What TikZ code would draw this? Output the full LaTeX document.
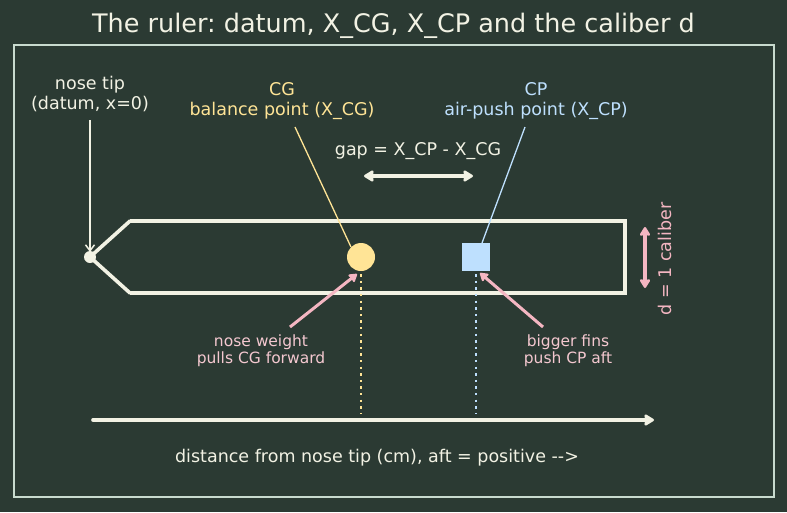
\documentclass[tikz,border=0pt]{standalone}
\usepackage{fontspec}
\setmainfont{DejaVu Sans}
\usetikzlibrary{arrows.meta}
\frenchspacing
\definecolor{bg}{RGB}{43,58,51}
\definecolor{cream}{RGB}{242,242,228}
\definecolor{framec}{RGB}{200,218,206}
\definecolor{cgc}{RGB}{255,228,150}
\definecolor{cpc}{RGB}{190,224,254}
\definecolor{pinkc}{RGB}{244,182,194}
\definecolor{pinktext}{RGB}{244,200,208}
\tikzset{
  lbl/.style={font=\fontsize{17.5}{20}\selectfont, align=center, inner sep=0pt},
  small/.style={font=\fontsize{15.5}{17}\selectfont, align=center, inner sep=0pt},
  body/.style={draw=cream, line width=3.6pt, line join=miter},
  thickarrow/.style={draw=cream, line width=3.6pt, -{Stealth[length=11pt,width=13pt,round,inset=1pt]}},
  pinkarrow/.style={draw=pinkc, line width=3pt, -{Stealth[length=9pt,width=11pt,round,inset=1pt]}},
}
\begin{document}
\begin{tikzpicture}[x=1pt,y=-1pt]
\fill[bg] (0,0) rectangle (787,512);
\useasboundingbox (0,0) rectangle (787,512);
\draw[framec, line width=1.3pt] (14,45) rectangle (774,497);
\node[font=\fontsize{25.5}{28}\selectfont, text=cream] (title) at (393.5,26) {The ruler: datum, X\_CG, X\_CP and the caliber d};

% rocket
\coordinate (tip) at (90,257);
\draw[body] (130,221) -- (625,221) -- (625,293) -- (130,293);
\draw[body, line cap=round] (130,221) -- (tip) -- (130,293);
\fill[cream] (tip) circle (6);

% markers and dotted lines
\node[circle, fill=cgc, minimum size=28pt, inner sep=0pt] (cg) at (361,257) {};
\node[fill=cpc, minimum size=28pt, inner sep=0pt] (cp) at (476,257) {};
\coordinate (cgbot) at (361,413);
\coordinate (cpbot) at (476,413);
\draw[cgc, line width=2.6pt, dash pattern=on 2.4pt off 4.2pt] ([yshift=-3pt]cg.south) -- (cgbot);
\draw[cpc, line width=2.6pt, dash pattern=on 2.4pt off 4.2pt] ([yshift=-3pt]cp.south) -- (cpbot);

% nose tip label
\node[lbl, text=cream] (nose) at (90,94) {nose tip\\(datum, x=0)};
\coordinate (nosetop) at (90,120);
\draw[cream, line width=1.5pt, -{Straight Barb[length=6pt,width=9pt]}] (nosetop) -- (90,252);

% CG label
\node[lbl, text=cgc] (cglbl) at (282,101) {CG\\balance point (X\_CG)};
\coordinate (cgl) at (295,127);
\draw[cgc, line width=1.3pt] (cgl) -- (cg.north west);

% CP label
\node[lbl, text=cpc] (cplbl) at (536,101) {CP\\air-push point (X\_CP)};
\coordinate (cpl) at (525,127);
\draw[cpc, line width=1.3pt] (cpl) -- (482,243);

% gap
\node[lbl, text=cream] (gap) at (418,151) {gap = X\_CP - X\_CG};
\coordinate (ga) at (364,176);
\coordinate (gb) at (473,176);
\draw[cream, line width=3.6pt, {Stealth[length=11pt,width=13pt,round,inset=1pt]}-{Stealth[length=11pt,width=13pt,round,inset=1pt]}] (ga) -- (gb);

% d caliber
\coordinate (da) at (645,227);
\coordinate (db) at (645,288);
\draw[pinkc, line width=3.2pt, {Stealth[length=10pt,width=12pt,round,inset=1pt]}-{Stealth[length=10pt,width=12pt,round,inset=1pt]}] (da) -- (db);
\node[lbl, text=pinkc, rotate=90] (dlbl) at (665,259) {d = 1 caliber};

% pink annotations
\node[small, text=pinktext] (nw) at (261,351) {nose weight\\pulls CG forward};
\node[small, text=pinktext] (bf) at (568,351) {bigger fins\\push CP aft};
\coordinate (nwa) at (290,327);
\coordinate (bfa) at (543,327);
\draw[pinkarrow] (nwa) -- (357,274);
\draw[pinkarrow] (bfa) -- (480,273);

% axis
\coordinate (ax0) at (93,420);
\coordinate (ax1) at (654,420);
\draw[thickarrow, line cap=round] (ax0) -- (ax1);
\node[lbl, text=cream] (axlbl) at (377,458) {distance from nose tip (cm), aft = positive -{}->};
\end{tikzpicture}
\end{document}
